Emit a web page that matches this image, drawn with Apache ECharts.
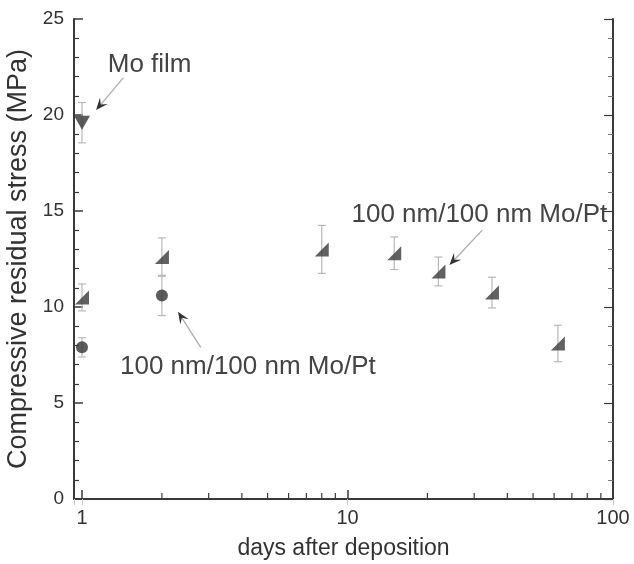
<!DOCTYPE html>
<html><head><meta charset="utf-8">
<script src="https://cdn.jsdelivr.net/npm/echarts@6/dist/echarts.min.js"></script>
<style>html,body{margin:0;padding:0;background:#fff}#c{width:634px;height:564px}</style>
</head><body><div id="c"></div>
<script>
// ---- data ----
const moDays = [1];
const moStress = [19.6];
const moErr = [1.05];

const circDays = [1, 2];
const circStress = [7.9, 10.6];
const circErr = [0.5, 1.05];

const triDays = [1, 2, 8, 15, 22, 35, 62];
const triStress = [10.5, 12.6, 13.0, 12.8, 11.85, 10.75, 8.1];
const triErr = [0.7, 1.0, 1.25, 0.85, 0.75, 0.8, 0.95];

const xTickLabels = [1, 10, 100];
const xMinorTicks = [2,3,4,5,6,7,8,9,20,30,40,50,60,70,80,90];

const annoTexts = ['Mo film', '100 nm/100 nm Mo/Pt', '100 nm/100 nm Mo/Pt'];
const annoPos = [[1.25, 22.6], [10.35, 14.79], [1.39, 6.9]];
const arrowTail = [[1.43, 21.93], [32.2, 14.0], [2.80, 7.9]];
const arrowHead = [[1.13, 20.26], [24.2, 12.19], [2.30, 9.75]];

const FONT = 'Liberation Sans, Arial, sans-serif';
const AX = '#3a3a3a';

function errData(d, v, e) { return d.map((x, i) => [x, v[i] - e[i], v[i] + e[i]]); }
const errAll = [].concat(errData(moDays, moStress, moErr), errData(circDays, circStress, circErr), errData(triDays, triStress, triErr));

const chart = echarts.init(document.getElementById('c'), null, {renderer: 'canvas'});

const xBase = {
  type: 'log', logBase: 10, min: 0.933, max: 100,
  splitLine: {show: false}, minorTick: {show: false}
};

chart.setOption({
  animation: false,
  grid: {left: 74, right: 21, top: 19, bottom: 65, containLabel: false, outerBoundsMode: 'none'},
  xAxis: [
    Object.assign({}, xBase, {
      position: 'bottom',
      name: 'days after deposition', nameLocation: 'middle', nameGap: 38,
      nameTextStyle: {fontFamily: FONT, fontSize: 23, color: '#333'},
      axisLine: {show: true, lineStyle: {color: AX, width: 2}},
      axisTick: {show: true, inside: true, length: 9, lineStyle: {color: AX, width: 1.5}},
      axisLabel: {show: true, showMinLabel: false, fontFamily: FONT, fontSize: 20, color: '#333', margin: 9,
        formatter: v => (xTickLabels.indexOf(Math.round(v)) >= 0 ? String(Math.round(v)) : '')}
    }),
    Object.assign({}, xBase, {
      position: 'top',
      axisLine: {show: true, lineStyle: {color: AX, width: 2}},
      axisTick: {show: true, inside: true, length: 6, lineStyle: {color: '#ccc', width: 1}},
      axisLabel: {show: false}
    })
  ],
  yAxis: [
    {
      type: 'value', min: 0, max: 25, interval: 5, position: 'left',
      name: 'Compressive residual stress (MPa)', nameLocation: 'middle', nameGap: 39,
      nameTextStyle: {fontFamily: FONT, fontSize: 27, color: '#333'},
      axisLine: {show: true, lineStyle: {color: AX, width: 2}},
      axisTick: {show: true, inside: true, length: 9, lineStyle: {color: AX, width: 1.5}},
      minorTick: {show: true, splitNumber: 5, length: 5, lineStyle: {color: AX, width: 1.2}},
      splitLine: {show: false},
      axisLabel: {fontFamily: FONT, fontSize: 19, color: '#333', margin: 10}
    },
    {
      type: 'value', min: 0, max: 25, interval: 5, position: 'right',
      axisLine: {show: true, lineStyle: {color: AX, width: 2}},
      axisTick: {show: true, inside: true, length: 9, lineStyle: {color: AX, width: 1.2}},
      minorTick: {show: true, splitNumber: 5, length: 5, lineStyle: {color: '#777', width: 1}},
      splitLine: {show: false},
      axisLabel: {show: false}
    }
  ],
  series: [
    {
      type: 'custom', name: 'minorX', xAxisIndex: 0, yAxisIndex: 0,
      data: xMinorTicks.map(v => [v, 0]), silent: true, z: 1,
      renderItem: (p, api) => {
        const a = api.coord([api.value(0), 0]);
        return {type: 'line', shape: {x1: a[0], y1: a[1], x2: a[0], y2: a[1] - 6},
          style: {stroke: AX, lineWidth: 1.2}};
      }
    },
    {
      type: 'custom', name: 'err', data: errAll, silent: true, z: 2,
      renderItem: (p, api) => {
        const lo = api.coord([api.value(0), api.value(1)]);
        const hi = api.coord([api.value(0), api.value(2)]);
        const w = 4;
        const st = {stroke: '#b8b8b8', lineWidth: 1.2};
        return {type: 'group', children: [
          {type: 'line', shape: {x1: lo[0], y1: lo[1], x2: hi[0], y2: hi[1]}, style: st},
          {type: 'line', shape: {x1: lo[0]-w, y1: lo[1], x2: lo[0]+w, y2: lo[1]}, style: st},
          {type: 'line', shape: {x1: hi[0]-w, y1: hi[1], x2: hi[0]+w, y2: hi[1]}, style: st}
        ]};
      }
    },
    {
      type: 'scatter', name: 'Mo film', z: 5,
      data: moDays.map((d, i) => [d, moStress[i]]),
      symbol: 'triangle', symbolRotate: 180, symbolSize: [16, 14],
      itemStyle: {color: '#333'}
    },
    {
      type: 'scatter', name: 'circle', z: 5,
      data: circDays.map((d, i) => [d, circStress[i]]),
      symbol: 'circle', symbolSize: 12,
      itemStyle: {color: '#333'}
    },
    {
      type: 'scatter', name: 'tri', z: 5,
      data: triDays.map((d, i) => [d, triStress[i]]),
      symbol: 'path://M0,10 L10,0 L10,10 Z', symbolSize: [14, 14],
      itemStyle: {color: '#3a3a3a'}
    }
  ]
});

function px(p) { return chart.convertToPixel({xAxisIndex: 0, yAxisIndex: 0}, p); }
const g = [];
annoTexts.forEach((t, i) => {
  const p = px(annoPos[i]);
  g.push({type: 'text', x: p[0], y: p[1], style: {text: t, font: '26px ' + FONT, fill: '#444', textVerticalAlign: 'middle', textAlign: 'left'}});
  const a = px(arrowTail[i]), b = px(arrowHead[i]);
  const ang = Math.atan2(b[1] - a[1], b[0] - a[0]);
  const L = 12, W = 5;
  const ux = Math.cos(ang), uy = Math.sin(ang);
  const base = [b[0] - ux * L, b[1] - uy * L];
  const notch = [b[0] - ux * L * 0.6, b[1] - uy * L * 0.6];
  g.push({type: 'line', shape: {x1: a[0], y1: a[1], x2: notch[0], y2: notch[1]}, style: {stroke: '#aaa', lineWidth: 1.2}});
  g.push({type: 'polygon', shape: {points: [
    b, [base[0] - uy * W, base[1] + ux * W], notch, [base[0] + uy * W, base[1] - ux * W]
  ]}, style: {fill: '#333'}});
});
chart.setOption({graphic: g});
</script>
</body></html>
